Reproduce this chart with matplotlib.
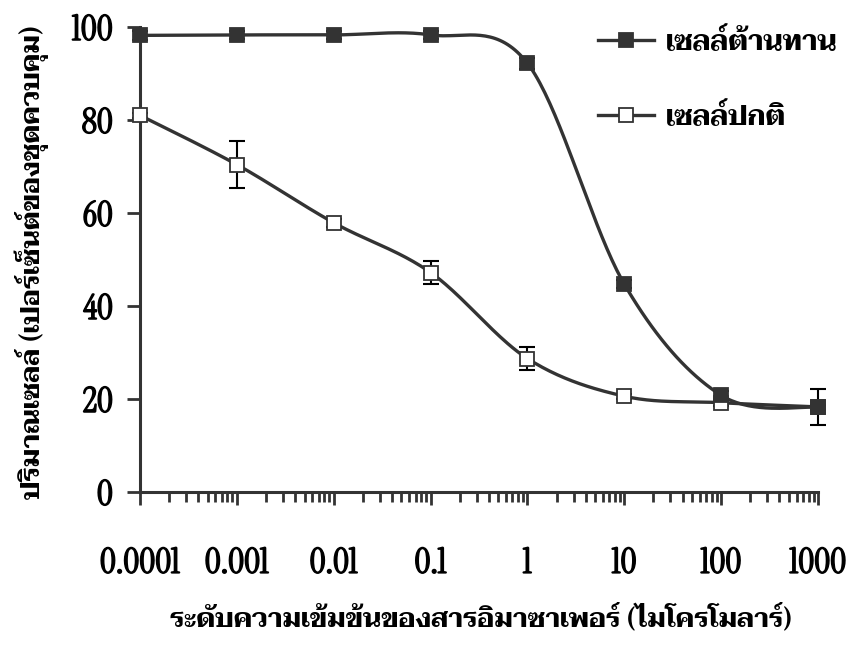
import numpy as np
import matplotlib
matplotlib.use('Agg')
import matplotlib.pyplot as plt
import matplotlib.patheffects as pe
from matplotlib.lines import Line2D
import logging
logging.getLogger('matplotlib.font_manager').setLevel(logging.ERROR)

# data
conc = [0.0001, 0.001, 0.01, 0.1, 1, 10, 100, 1000]
resistant = [98.2, 98.3, 98.3, 98.3, 92.2, 44.7, 20.8, 18.2]
resistant_err = [0.9, 0.9, 0.9, 0.9, 1.2, 0.9, 0.9, 0.5]
normal = [81.0, 70.4, 57.9, 47.2, 28.7, 20.6, 19.2, 18.3]
normal_err = [0.5, 5.0, 0.9, 2.5, 2.5, 0.5, 0.6, 3.9]

tick_labels = ['0.0001', '0.001', '0.01', '0.1', '1', '10', '100', '1000']
label_res = 'เซลล์ต้านทาน'
label_norm = 'เซลล์ปกติ'
xlabel = 'ระดับความเข้มข้นของสารอิมาซาเพอร์ (ไมโครโมลาร์)'
ylabel = 'ปริมาณเซลล์ (เปอร์เซ็นต์ของชุดควบคุม)'

num_font = ['Instrument Serif', 'Oranienbaum', 'Antic Didone', 'Liberation Serif']
thai_font = ['Taviraj', 'FreeSerif']
dark = '#333333'


def smooth(xs, ys, n=40):
    # excel style smoothed line (catmull-rom in log x)
    lx = np.log10(xs)
    ys = np.asarray(ys, float)
    P = np.column_stack([lx, ys])
    out = []
    for i in range(len(P) - 1):
        p0 = P[i - 1] if i > 0 else P[i]
        p1, p2 = P[i], P[i + 1]
        p3 = P[i + 2] if i + 2 < len(P) else P[i + 1]
        c1 = p1 + (p2 - p0) / 6
        c2 = p2 - (p3 - p1) / 6
        t = np.linspace(0, 1, n)[:, None]
        seg = (1 - t) ** 3 * p1 + 3 * (1 - t) ** 2 * t * c1 + 3 * (1 - t) * t ** 2 * c2 + t ** 3 * p2
        out.append(seg if i == 0 else seg[1:])
    out = np.vstack(out)
    return 10 ** out[:, 0], out[:, 1]


fig = plt.figure(figsize=(8.54, 6.45), dpi=100)
ax = fig.add_axes([140 / 854, 1 - 492 / 645, 678 / 854, 465 / 645])

for ys, err, face in [(normal, normal_err, 'white'), (resistant, resistant_err, dark)]:
    sx, sy = smooth(conc, ys)
    ax.plot(sx, sy, color=dark, lw=2.4, clip_on=False, zorder=2)
    ax.errorbar(conc, ys, yerr=err, fmt='none', ecolor='black', elinewidth=1.5,
                capsize=5.5, capthick=1.5, clip_on=False, zorder=3)
    ax.plot(conc, ys, ls='none', marker='s', ms=10, mfc=face, mec=dark, mew=1.3,
            clip_on=False, zorder=4)

ax.set_xscale('log')
ax.set_xlim(0.0001, 1000)
ax.set_ylim(0, 100)
ax.set_xticks(conc)
ax.set_xticklabels(tick_labels)
ax.set_yticks([0, 20, 40, 60, 80, 100])

for s in ['top', 'right']:
    ax.spines[s].set_visible(False)
for s in ['left', 'bottom']:
    ax.spines[s].set_linewidth(2.2)
    ax.spines[s].set_color(dark)

ax.tick_params(axis='both', which='major', direction='out', length=9.5, width=2, color=dark)
ax.tick_params(axis='x', which='minor', direction='out', length=7.5, width=2, color=dark)
ax.tick_params(axis='x', which='major', pad=30)
ax.tick_params(axis='y', which='major', pad=10)
for lab in ax.get_xticklabels() + ax.get_yticklabels():
    lab.set_family(num_font)
    lab.set_fontsize(25)
    lab.set_fontweight('bold')
    # thicken the thin serif digits a little
    lab.set_path_effects([pe.withStroke(linewidth=1.1, foreground='black')])

fig.text(481 / 854, 1 - 618 / 645, xlabel, ha='center', va='center',
         family=thai_font, fontsize=19, fontweight='bold')
fig.text(32 / 854, 1 - 262 / 645, ylabel, ha='center', va='center', rotation=90,
         family=thai_font, fontsize=19, fontweight='bold')

handles = [Line2D([], [], color=dark, lw=2.4, marker='s', ms=10, mfc=dark, mec=dark, mew=1.3),
           Line2D([], [], color=dark, lw=2.4, marker='s', ms=10, mfc='white', mec=dark, mew=1.3)]
leg = fig.legend(handles, [label_res, label_norm], loc='upper left',
                 bbox_to_anchor=(598 / 854, 1 - 28 / 645), frameon=False,
                 prop={'family': thai_font, 'size': 20, 'weight': 'bold'},
                 handlelength=2.0, handletextpad=0.45, labelspacing=1.7,
                 borderpad=0, borderaxespad=0)

fig.savefig('out.png', dpi=100)
